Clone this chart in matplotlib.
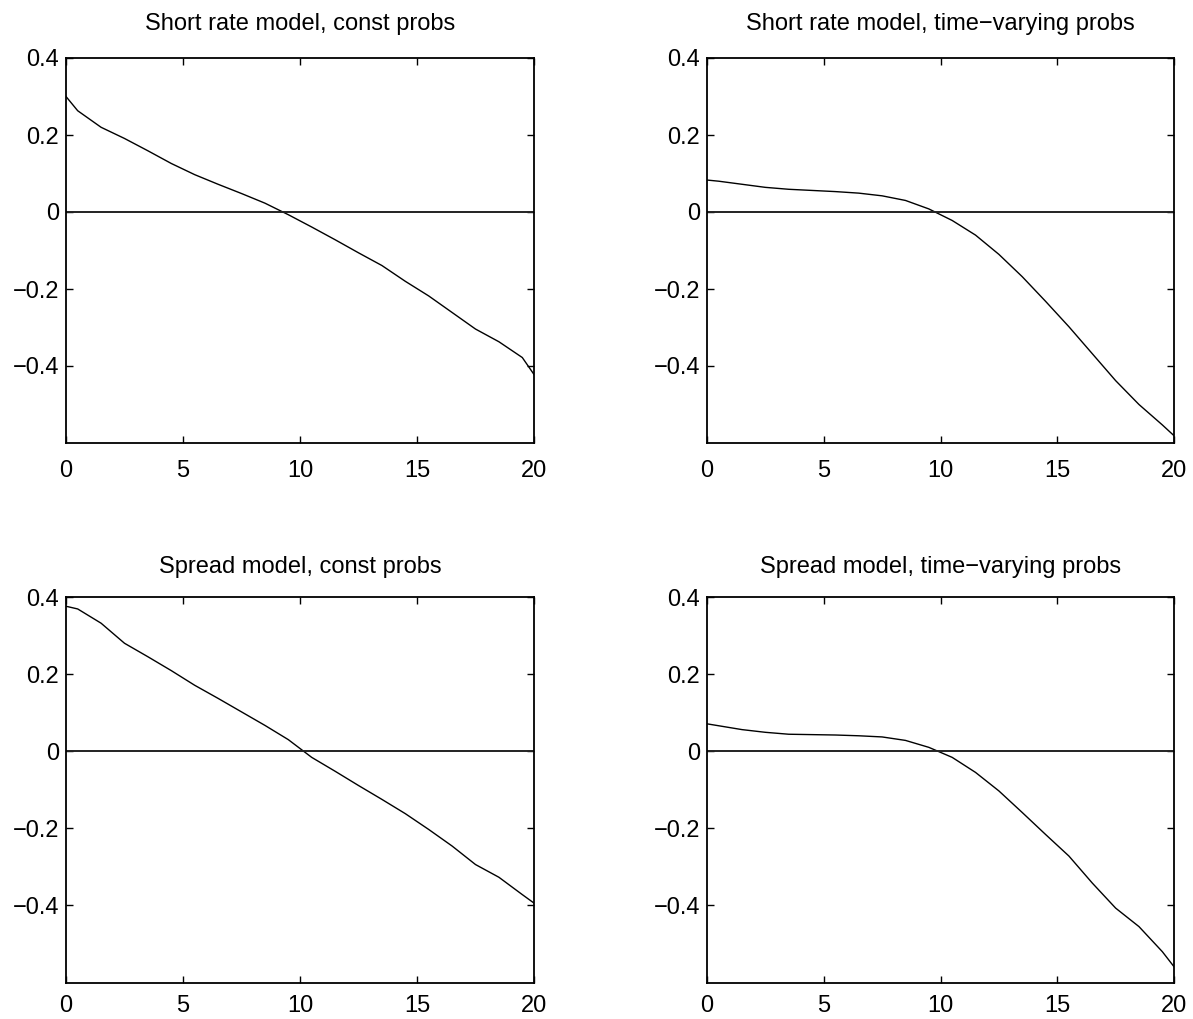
import matplotlib
matplotlib.use("Agg")
import matplotlib.pyplot as plt

plt.rcParams["font.family"] = ["Liberation Sans", "DejaVu Sans"]

# Horizon grid shared by all four panels
horizon = [0, 0.5, 1.5, 2.5, 3.5, 4.5, 5.5, 6.5, 7.5, 8.5, 9.5,
           10.5, 11.5, 12.5, 13.5, 14.5, 15.5, 16.5, 17.5, 18.5, 19.5, 20]

short_const = [0.300, 0.263, 0.220, 0.191, 0.159, 0.126, 0.097, 0.072, 0.048, 0.023, -0.007,
               -0.039, -0.072, -0.106, -0.139, -0.180, -0.218, -0.261, -0.304, -0.337, -0.378, -0.422]
short_tv = [0.083, 0.080, 0.072, 0.064, 0.059, 0.056, 0.053, 0.049, 0.042, 0.030, 0.008,
            -0.022, -0.060, -0.110, -0.168, -0.232, -0.298, -0.368, -0.438, -0.500, -0.553, -0.581]
spread_const = [0.376, 0.369, 0.332, 0.280, 0.245, 0.209, 0.171, 0.137, 0.102, 0.067, 0.030,
                -0.016, -0.052, -0.089, -0.125, -0.162, -0.203, -0.246, -0.294, -0.327, -0.372, -0.394]
spread_tv = [0.071, 0.066, 0.056, 0.049, 0.044, 0.043, 0.042, 0.040, 0.037, 0.028, 0.010,
             -0.016, -0.055, -0.103, -0.159, -0.216, -0.272, -0.342, -0.407, -0.455, -0.520, -0.559]

titles = ["Short rate model, const probs", "Short rate model, time\u2212varying probs",
          "Spread model, const probs", "Spread model, time\u2212varying probs"]
series = [short_const, short_tv, spread_const, spread_tv]

x_ticks = [0, 5, 10, 15, 20]
y_ticks = [-0.4, -0.2, 0, 0.2, 0.4]
y_ticklabels = ["\u22120.4", "\u22120.2", "0", "0.2", "0.4"]

W, H = 1193, 1019
fig = plt.figure(figsize=(W / 100, H / 100), dpi=100)

# axes boxes in pixels: left, top, right, bottom
boxes = [(66, 58, 534, 443), (707, 58, 1174, 443),
         (66, 597, 534, 982.5), (707, 597, 1174, 982.5)]
title_pads = [20.5, 20.5, 17.5, 17.5]
xlabel_pads = [12.5, 12.5, 9.0, 9.0]

for (l, t, r, b), title, y, tpad, xpad in zip(boxes, titles, series, title_pads, xlabel_pads):
    ax = fig.add_axes([l / W, 1 - b / H, (r - l) / W, (b - t) / H])
    ax.plot(horizon, y, color="black", linewidth=1.0)
    ax.plot([0, 20], [0, 0], color="#222222", linewidth=1.4)
    ax.set_xlim(0, 20)
    ax.set_ylim(-0.6, 0.4)
    ax.set_xticks(x_ticks)
    ax.set_xticklabels([str(v) for v in x_ticks])
    ax.set_yticks(y_ticks)
    ax.set_yticklabels(y_ticklabels)
    ax.tick_params(direction="in", length=5, width=1.0, top=True, right=True,
                   labelsize=17, colors="black")
    ax.tick_params(axis="x", pad=xpad)
    ax.tick_params(axis="y", pad=5)
    for s in ax.spines.values():
        s.set_linewidth(1.3)
    ax.set_title(title, fontsize=17, pad=tpad)

fig.savefig("out.png", dpi=100, facecolor="white")
